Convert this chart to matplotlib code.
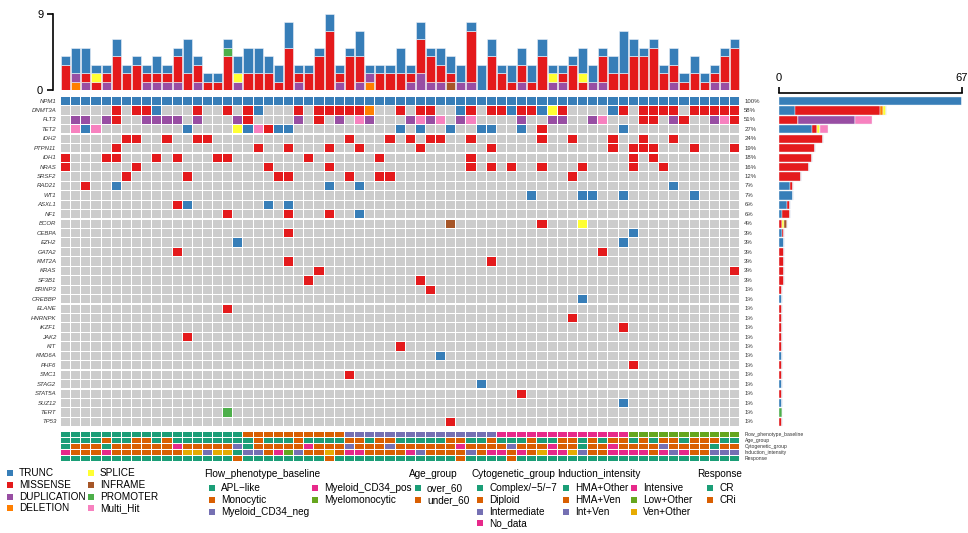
import matplotlib
matplotlib.use("Agg")
import matplotlib.pyplot as plt
import numpy as np

plt.rcParams['font.family'] = ['Liberation Sans', 'DejaVu Sans']

# ---------------- data ----------------
n_samples = 67

genes = ['NPM1', 'DNMT3A', 'FLT3', 'TET2', 'IDH2', 'PTPN11', 'IDH1', 'NRAS', 'SRSF2',
         'RAD21', 'WT1', 'ASXL1', 'NF1', 'BCOR', 'CEBPA', 'EZH2', 'GATA2', 'KMT2A',
         'KRAS', 'SF3B1', 'BRINP3', 'CREBBP', 'ELANE', 'HNRNPK', 'IKZF1', 'JAK2', 'KIT',
         'KMD6A', 'PHF6', 'SMC1', 'STAG2', 'STAT5A', 'SUZ12', 'TERT', 'TP53']

# sample:code  (T trunc, M missense, D duplication, X deletion, S splice,
#               I inframe, P promoter, H multi hit)
gene_hits = [
    "0-66:T",
    "5:M 7:M 8:M 9:T 13:M 16:M 18:M 19:T 23:M 25:M 26:M 27:M 28:M 29:M 30:X 33:M 35:M 36:M "
    "39:T 40:M 42:M 43:M 44:T 45:M 46:M 47:T 48:S 49:M 54:T 55:M 57:M 58:M 59:M 60:M 62:M "
    "63:M 64:M 65:M 66:M",
    "1:D 2:D 4:D 5:M 8:D 9:D 10:D 11:D 13:D 17:D 18:M 23:D 25:M 27:D 29:H 30:D 34:D 35:H "
    "36:D 37:H 39:D 40:H 45:D 48:D 49:D 52:D 53:H 57:M 58:M 60:D 61:M 64:D 65:H 66:M",
    "1:H 2:T 3:H 12:T 17:S 18:T 19:H 20:M 21:T 22:T 33:T 35:T 38:T 41:T 42:T 45:T 47:M 55:T",
    "6:M 7:M 10:M 13:M 14:M 28:M 32:M 34:M 36:M 37:M 40:M 47:M 50:M 54:M 57:M 60:M",
    "5:M 19:M 22:M 26:M 29:M 35:M 42:M 54:M 56:M 57:M 58:M 62:M 66:M",
    "0:M 4:M 5:M 9:M 11:M 15:M 16:M 24:M 31:M 40:M 56:M 58:M",
    "0:M 7:M 20:M 26:M 40:M 42:M 44:M 47:M 51:M 56:M 59:M",
    "6:M 12:M 21:M 22:M 28:M 31:M 32:M 50:M",
    "2:M 5:T 26:T 29:T 60:T",
    "46:T 51:T 52:T 55:T 62:T",
    "11:M 12:T 20:T 22:T",
    "16:M 22:M 26:M 29:T",
    "38:I 47:M 51:S",
    "22:M 56:T",
    "17:T 55:T",
    "11:M 53:M",
    "22:M 42:M",
    "25:M 66:M",
    "24:M 35:M",
    "36:M",
    "51:T",
    "16:M",
    "50:M",
    "55:M",
    "12:M",
    "33:M",
    "37:T",
    "56:M",
    "28:M",
    "41:T",
    "45:M",
    "55:T",
    "16:P",
    "38:M",
]

# variants per sample (top bar)
top_del = [0, 1, 0, 0, 0, 0, 0, 0, 0, 0, 0, 0, 0, 0, 0, 0, 0, 0, 0, 0, 0, 0, 0, 0, 0, 0, 0, 0, 0, 0,
           1, 0, 0, 0, 0, 0, 0, 0, 0, 0, 0, 0, 0, 0, 0, 0, 0, 0, 0, 0, 0, 0, 0, 0, 0, 0, 0, 0, 0, 0,
           0, 0, 0, 0, 0, 0, 0]
top_dup = [0, 1, 1, 0, 1, 0, 0, 0, 1, 1, 1, 1, 0, 1, 0, 0, 0, 1, 0, 0, 0, 0, 0, 1, 0, 0, 0, 1, 0, 1,
           1, 0, 0, 0, 1, 2, 1, 1, 0, 1, 1, 0, 0, 0, 0, 1, 0, 0, 1, 1, 0, 0, 1, 1, 0, 0, 0, 0, 0, 0,
           1, 0, 0, 0, 1, 1, 0]
top_inf = [0, 0, 0, 0, 0, 0, 0, 0, 0, 0, 0, 0, 0, 0, 0, 0, 0, 0, 0, 0, 0, 0, 0, 0, 0, 0, 0, 0, 0, 0,
           0, 0, 0, 0, 0, 0, 0, 0, 1, 0, 0, 0, 0, 0, 0, 0, 0, 0, 0, 0, 0, 0, 0, 0, 0, 0, 0, 0, 0, 0,
           0, 0, 0, 0, 0, 0, 0]
top_mis = [3, 0, 1, 1, 1, 4, 2, 3, 1, 1, 1, 3, 2, 2, 1, 1, 4, 0, 2, 2, 2, 1, 5, 1, 2, 4, 7, 1, 4, 3,
           0, 2, 2, 2, 1, 4, 3, 2, 1, 0, 6, 0, 4, 2, 1, 2, 1, 4, 0, 1, 3, 1, 0, 3, 2, 2, 4, 4, 5, 2,
           2, 1, 2, 1, 1, 3, 5]
top_spl = [0, 0, 0, 1, 0, 0, 0, 0, 0, 0, 0, 0, 0, 0, 0, 0, 0, 1, 0, 0, 0, 0, 0, 0, 0, 0, 0, 0, 0, 0,
           0, 0, 0, 0, 0, 0, 0, 0, 0, 0, 0, 0, 0, 0, 0, 0, 0, 0, 1, 0, 0, 1, 0, 0, 0, 0, 0, 0, 0, 0,
           0, 0, 0, 0, 0, 0, 0]
top_pro = [0, 0, 0, 0, 0, 0, 0, 0, 0, 0, 0, 0, 0, 0, 0, 0, 1, 0, 0, 0, 0, 0, 0, 0, 0, 0, 0, 0, 0, 0,
           0, 0, 0, 0, 0, 0, 0, 0, 0, 0, 0, 0, 0, 0, 0, 0, 0, 0, 0, 0, 0, 0, 0, 0, 0, 0, 0, 0, 0, 0,
           0, 0, 0, 0, 0, 0, 0]
top_trunc = [1, 3, 3, 1, 1, 2, 1, 1, 1, 2, 1, 1, 4, 1, 1, 1, 1, 2, 3, 3, 2, 2, 3, 1, 1, 1, 2, 1, 1, 3,
             1, 1, 1, 3, 1, 2, 1, 2, 2, 2, 1, 3, 2, 1, 2, 2, 2, 2, 1, 1, 1, 3, 2, 1, 2, 5, 2, 1, 1, 1,
             2, 1, 2, 1, 1, 1, 1]

# clinical annotation tracks (one code per sample)
track_names = ['Flow_phenotype_baseline', 'Age_group', 'Cytogenetic_group',
               'Induction_intensity', 'Response']
flow_codes = "AAAAAAAAAA AAAAAAAAMM MMMMMMMMNN NNNNNNNNNN NNNPPPPPPP PPPPPPYYYY YYYYYYY"
age_codes = "oooouoouuo uoooooooou ooouoooouu ouuooooouu oouooouoou uououuouou uouuuoo"
cyto_codes = "CDDDCDDDDD DPDDDDDICD DDDDPDDDID DDIDDDDDDP DDDDIDDDPD DCDDPDDDDI DDDDCDD"
induct_codes = "PDDDPDDDDD DDVVNVVHNN DPGNDDVDPP DDDDPNDDDD NDPPDPDVPP VNDDPPPPDP NPDDNNN"
resp_codes = "CCCCCCCCCC CCCCCCCRCC CCCCCCRCCC CCCCCCCCCR CCCCRCCCCC CCCCCCCCCC CCCCCCC"

# ---------------- styles ----------------
mut_colors = {'T': '#377EB8', 'M': '#E41A1C', 'D': '#984EA3', 'X': '#FF7F00',
              'S': '#FFFF33', 'I': '#A65628', 'P': '#4DAF4A', 'H': '#F781BF'}
dark2 = ['#1B9E77', '#D95F02', '#7570B3', '#E7298A', '#66A61E', '#E6AB02']
track_maps = [
    {'A': ('APL−like', dark2[0]), 'M': ('Monocytic', dark2[1]), 'N': ('Myeloid_CD34_neg', dark2[2]),
     'P': ('Myeloid_CD34_pos', dark2[3]), 'Y': ('Myelomonocytic', dark2[4])},
    {'o': ('over_60', dark2[0]), 'u': ('under_60', dark2[1])},
    {'C': ('Complex/−5/−7', dark2[0]), 'D': ('Diploid', dark2[1]), 'I': ('Intermediate', dark2[2]),
     'P': ('No_data', dark2[3])},
    {'H': ('HMA+Other', dark2[0]), 'D': ('HMA+Ven', dark2[1]), 'N': ('Int+Ven', dark2[2]),
     'P': ('Intensive', dark2[3]), 'G': ('Low+Other', dark2[4]), 'V': ('Ven+Other', dark2[5])},
    {'C': ('CR', dark2[0]), 'R': ('CRi', dark2[1])},
]
track_codes = [flow_codes, age_codes, cyto_codes, induct_codes, resp_codes]
track_codes = [c.replace(' ', '') for c in track_codes]


def parse_hits(text):
    out = []
    for tok in text.split():
        pos, code = tok.split(':')
        if '-' in pos:
            a, b = pos.split('-')
            out += [(i, code) for i in range(int(a), int(b) + 1)]
        else:
            out.append((int(pos), code))
    return out


hits = [parse_hits(t) for t in gene_hits]
n_genes = len(genes)

W, H = 968, 533
fig = plt.figure(figsize=(W / 100, H / 100), dpi=100)


def px_axes(x0, y0, x1, y1):
    return fig.add_axes([x0 / W, 1 - y1 / H, (x1 - x0) / W, (y1 - y0) / H])


# ---------------- oncoplot grid ----------------
ax = px_axes(60.5, 96.3, 739.7, 426.7)
cw, ch = 0.9, 0.88
xs = np.tile(np.arange(n_samples), n_genes)
ys = np.repeat(np.arange(n_genes), n_samples)
ax.bar(xs, ch, bottom=ys - ch / 2, width=cw, color='#CCCCCC', linewidth=0)
for code, col in mut_colors.items():
    cx = [s for g in range(n_genes) for s, c in hits[g] if c == code]
    cy = [g for g in range(n_genes) for s, c in hits[g] if c == code]
    if cx:
        ax.bar(cx, ch, bottom=np.array(cy) - ch / 2, width=cw, color=col, linewidth=0)
ax.set_xlim(-0.5, n_samples - 0.5)
ax.set_ylim(n_genes - 0.5, -0.5)
ax.axis('off')
for g, name in enumerate(genes):
    ax.text(-0.9, g, name, ha='right', va='center', fontsize=4.3, fontstyle='italic', color='#333333')
    pct = round(100 * len(hits[g]) / n_samples)
    ax.text(66.95, g, '%d%%' % pct, ha='left', va='center', fontsize=4.3, color='#333333')

# ---------------- top bar (variants per sample) ----------------
axt = px_axes(60.5, 14, 739.7, 90)
bottom = np.zeros(n_samples)
for vals, code in [(top_del, 'X'), (top_dup, 'D'), (top_inf, 'I'), (top_mis, 'M'),
                   (top_spl, 'S'), (top_pro, 'P'), (top_trunc, 'T')]:
    v = np.array(vals)
    axt.bar(np.arange(n_samples), v, bottom=bottom, width=cw, color=mut_colors[code],
            edgecolor='#EEF2F8', linewidth=0.4)
    bottom += v
axt.set_xlim(-0.5, n_samples - 0.5)
axt.set_ylim(0, 9)
for s in ['top', 'right', 'bottom']:
    axt.spines[s].set_visible(False)
axt.spines['left'].set_position(('outward', 5.5))
axt.spines['left'].set_linewidth(1.2)
axt.set_yticks([0, 9])
axt.tick_params(axis='y', length=4, width=1.2, labelsize=8, pad=3)
axt.set_xticks([])

# ---------------- right bar (per gene counts) ----------------
axr = px_axes(779, 96.3, 962, 426.7)
left = np.zeros(n_genes)
for code in ['T', 'M', 'X', 'S', 'I', 'D', 'P', 'H']:
    v = np.array([sum(1 for s, c in hits[g] if c == code) for g in range(n_genes)])
    axr.barh(np.arange(n_genes), v, left=left, height=ch, color=mut_colors[code],
             edgecolor='#EEF2F8', linewidth=0.3)
    left += v
axr.set_xlim(0, n_samples)
axr.set_ylim(n_genes - 0.5, -0.5)
for s in ['bottom', 'right', 'left']:
    axr.spines[s].set_visible(False)
axr.spines['top'].set_position(('outward', 2.5))
axr.spines['top'].set_linewidth(1.2)
axr.xaxis.tick_top()
axr.set_xticks([0, n_samples])
axr.tick_params(axis='x', length=4, width=1.2, labelsize=8, pad=3)
axr.set_yticks([])

# ---------------- annotation tracks ----------------
axa = px_axes(60.5, 432, 739.7, 461.5)
for r, (codes, cmap) in enumerate(zip(track_codes, track_maps)):
    cols = [cmap[c][1] for c in codes]
    axa.bar(np.arange(n_samples), 0.85, bottom=r - 0.425, width=cw, color=cols, linewidth=0)
    axa.text(67.0, r, track_names[r], ha='left', va='center', fontsize=3.6, color='#333333')
axa.set_xlim(-0.5, n_samples - 0.5)
axa.set_ylim(4.5, -0.5)
axa.axis('off')

# ---------------- legends ----------------
axl = px_axes(0, 0, W, H)
axl.set_xlim(0, W)
axl.set_ylim(H, 0)
axl.axis('off')
axl.patch.set_visible(False)
fs = 7.2
dy = 11.8


def legend_item(x, y, color, label):
    axl.scatter([x], [y], marker='s', s=14, color=color, linewidths=0)
    axl.text(x + 9, y, label, va='center', ha='left', fontsize=fs)


mut_labels = [('TRUNC', 'T'), ('MISSENSE', 'M'), ('DUPLICATION', 'D'), ('DELETION', 'X'),
              ('SPLICE', 'S'), ('INFRAME', 'I'), ('PROMOTER', 'P'), ('Multi_Hit', 'H')]
for k, (lab, code) in enumerate(mut_labels):
    x = 10 if k < 4 else 91
    legend_item(x, 473 + dy * (k % 4), mut_colors[code], lab)

title_y = 474
groups = [(204, 212, 3), (409, 418, 4), (472, 480, 4), (557, 566, 3), (697, 710, 4)]
col2_x = {0: 315, 3: 634}
for t, (tx, ix, per_col) in enumerate(groups):
    axl.text(tx, title_y, track_names[t], va='center', ha='left', fontsize=fs)
    items = list(track_maps[t].values())
    for k, (lab, col) in enumerate(items):
        x = ix if k < per_col else col2_x[t]
        legend_item(x, title_y + 14 + dy * (k % per_col), col, lab)

fig.savefig('out.png', dpi=100)
